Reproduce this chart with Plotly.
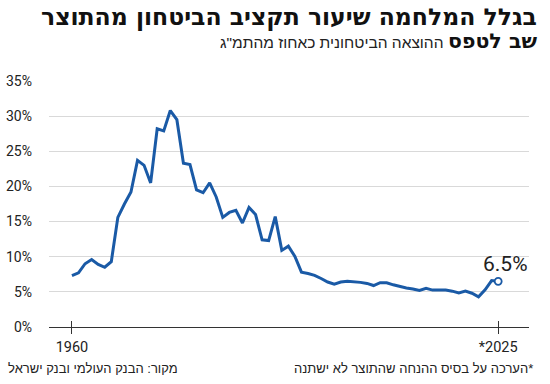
import plotly.graph_objects as go

years = list(range(1960, 2026))
defense_pct = [
    7.3, 7.7, 9.0, 9.6, 8.9, 8.5, 9.3, 15.6, 17.5, 19.2,
    23.7, 23.0, 20.5, 28.2, 27.9, 30.8, 29.5, 23.3, 23.1, 19.5,
    19.1, 20.5, 18.5, 15.6, 16.3, 16.6, 14.8, 17.0, 16.0, 12.4,
    12.3, 15.7, 10.9, 11.5, 10.05, 7.8, 7.6, 7.35, 6.9, 6.4,
    6.1, 6.4, 6.5, 6.45, 6.35, 6.2, 5.9, 6.3, 6.3, 6.0,
    5.75, 5.55, 5.4, 5.2, 5.5, 5.25, 5.25, 5.25, 5.1, 4.85,
    5.1, 4.8, 4.3, 5.3, 6.6, 6.5,
]
x_tick_vals = [1960, 2025]
x_tick_text = ["1960", "*2025"]
y_tick_vals = [0, 5, 10, 15, 20, 25, 30, 35]
y_tick_text = [f"{v}%" for v in y_tick_vals]

title_line1 = "בגלל המלחמה שיעור תקציב הביטחון מהתוצר"
title_line2_bold = "שב לטפס"
subtitle = "ההוצאה הביטחונית כאחוז מהתמ\"ג"
source_text = "מקור: הבנק העולמי ובנק ישראל"
note_text = "הערכה על בסיס ההנחה שהתוצר לא ישתנה*"

BLUE = "#1a5aa6"
DARK = "#222222"
NUM = "Roboto, sans-serif"
HEB = "Liberation Sans, sans-serif"
HEB_BOLD = "DejaVu Sans, sans-serif"

W, H = 550, 384
ML, MR, MT, MB = 49, 21, 81, 57
PW, PH = W - ML - MR, H - MT - MB

def px_x(x):
    return (x - ML) / PW

def px_y(y_from_top):
    return (H - y_from_top - MB) / PH

fig = go.Figure()
fig.add_trace(go.Scatter(
    x=years, y=defense_pct, mode="lines",
    line=dict(color=BLUE, width=3), hoverinfo="skip",
))
fig.add_trace(go.Scatter(
    x=years[-1:], y=defense_pct[-1:], mode="markers",
    marker=dict(color="white", size=7, line=dict(color=BLUE, width=1.8)),
    hoverinfo="skip",
))
fig.add_trace(go.Scatter(x=[None], y=[None], xaxis="x2", showlegend=False))

fig.update_layout(
    width=W, height=H,
    margin=dict(l=ML, r=MR, t=MT, b=MB, autoexpand=False),
    paper_bgcolor="white", plot_bgcolor="white",
    showlegend=False,
    xaxis=dict(
        range=[1956.5, 2029.7], tickvals=x_tick_vals, ticktext=x_tick_text,
        showgrid=False, zeroline=False, showline=True, linecolor="#333333", linewidth=1.2,
        ticks="outside", ticklen=6, tickcolor="#333333", tickwidth=1.2,
        tickfont=dict(family=NUM, size=14.5, color=DARK),
    ),
    xaxis2=dict(
        range=[1956.5, 2029.7], tickvals=x_tick_vals, overlaying="x", anchor="y",
        side="bottom", showticklabels=False, showgrid=False, zeroline=False,
        ticks="inside", ticklen=6, tickcolor="#333333", tickwidth=1.2,
    ),
    yaxis=dict(
        range=[0, 35], tickvals=y_tick_vals, ticktext=y_tick_text,
        showgrid=True, gridcolor="#d9d9d9", gridwidth=1, zeroline=False,
        ticks="", ticklabelstandoff=16,
        tickfont=dict(family=NUM, size=14, color=DARK),
    ),
)

fig.add_annotation(
    x=years[-1], y=defense_pct[-1], text=f"{defense_pct[-1]}%",
    showarrow=False, xshift=7, yshift=17,
    font=dict(family=NUM, size=21, color=DARK),
)

def text_at(x, y, text, anchor, font):
    fig.add_annotation(x=px_x(x), y=px_y(y), xref="paper", yref="paper", text=text,
                       showarrow=False, xanchor=anchor, yanchor="middle", font=font)

text_at(539, 17, title_line1, "right", dict(family=HEB_BOLD, size=23.5, color="#111111", weight=900))
text_at(539, 41, title_line2_bold, "right", dict(family=HEB_BOLD, size=20.5, color="#111111", weight=900))
text_at(446, 42, subtitle, "right", dict(family=HEB, size=15.5, color=DARK))
text_at(6, 368, source_text, "left", dict(family=HEB, size=13, color=DARK))
text_at(535, 368, note_text, "right", dict(family=HEB, size=13, color=DARK))

fig.write_html("out.html", config={"displayModeBar": False},
               post_script="document.body.style.margin='0px';")
